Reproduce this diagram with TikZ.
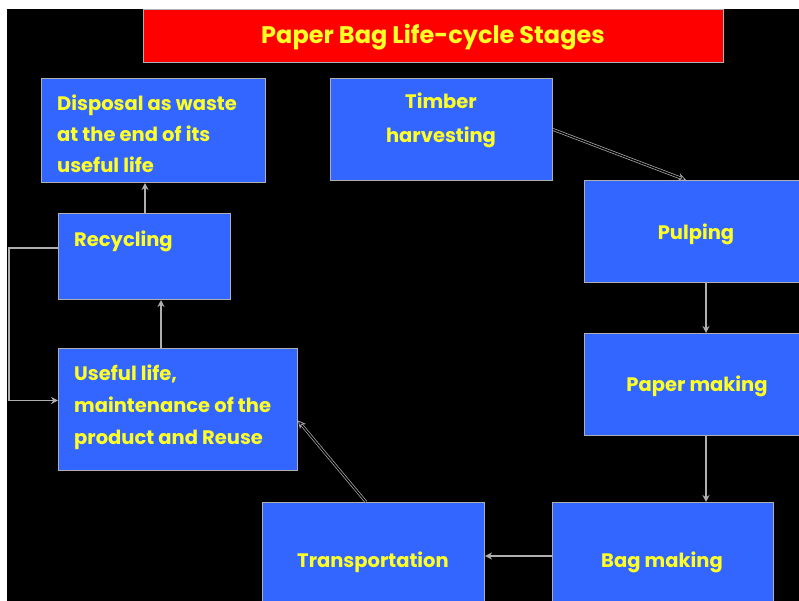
\documentclass[tikz,border=0pt]{standalone}
\usepackage{fontspec}
\setmainfont{Poppins}
\usetikzlibrary{arrows.meta,calc}
\definecolor{boxblue}{RGB}{51,102,255}
\definecolor{txtyellow}{RGB}{255,255,40}
\definecolor{edgegray}{RGB}{175,175,175}
\begin{document}
\begin{tikzpicture}[x=1pt,y=-1pt,
  stagebox/.style={draw=edgegray,line width=1pt,fill=boxblue,anchor=north west,inner sep=0pt},
  stagetext/.style={text=txtyellow,font=\fontsize{19.5}{31}\selectfont\bfseries,inner sep=0pt},
  arr/.style={draw=edgegray,line width=1.3pt,-{Stealth[open,length=7pt,width=7pt]}},
  darr/.style={draw=edgegray,line width=0.7pt,double=black,double distance=1.4pt,-{Stealth[open,length=8pt,width=8pt]}}]
\useasboundingbox (0,0) rectangle (799,601);
\clip (0,0) rectangle (799,601);
\fill[white] (0,0) rectangle (799,601);
\fill[black] (7,9) rectangle (805,610);
% title
\node[draw=edgegray,line width=1pt,fill=red,anchor=north west,inner sep=0pt,minimum width=580pt,minimum height=53pt] (title) at (143,9) {};
\node[text=txtyellow,font=\fontsize{24}{28}\selectfont\bfseries,inner sep=0pt] (titletext) at (433,37) {Paper Bag Life-cycle Stages};
% boxes
\node[stagebox,minimum width=224pt,minimum height=104pt] (disp) at (41,78) {};
\node[stagebox,minimum width=222pt,minimum height=102pt] (timb) at (330,78) {};
\node[stagebox,minimum width=230pt,minimum height=102pt] (pulp) at (584,180) {};
\node[stagebox,minimum width=230pt,minimum height=102pt] (papr) at (584,333) {};
\node[stagebox,minimum width=221pt,minimum height=110pt] (bagm) at (552,502) {};
\node[stagebox,minimum width=222pt,minimum height=110pt] (trns) at (262,502) {};
\node[stagebox,minimum width=172pt,minimum height=86pt] (recy) at (58,213) {};
\node[stagebox,minimum width=239pt,minimum height=122pt] (usef) at (58,348) {};
% texts
\node[stagetext,anchor=west,align=left] (tdisp) at (57,134) {Disposal as waste\\at the end of its\\useful life};
\node[stagetext,align=center,font=\fontsize{19.5}{34}\selectfont\bfseries] (ttimb) at (441,120) {Timber\\harvesting};
\node[stagetext] (tpulp) at (696,234) {Pulping};
\node[stagetext] (tpapr) at (697,386) {Paper making};
\node[stagetext] (tbagm) at (662,562) {Bag making};
\node[stagetext] (ttrns) at (373,562) {Transportation};
\node[stagetext,anchor=west] (trecy) at (74,241) {Recycling};
\node[stagetext,anchor=west,align=left,font=\fontsize{19.5}{32}\selectfont\bfseries] (tusef) at (74,407) {Useful life,\\maintenance of the\\product and Reuse};
% connectors
\draw[darr] (timb.east) -- ([xshift=102pt]pulp.north west);
\draw[arr] ([xshift=122pt]pulp.south west) -- ([xshift=122pt]papr.north west);
\draw[arr] ([xshift=122pt]papr.south west) -- ([xshift=154pt]bagm.north west);
\draw[arr] ([yshift=-54pt]bagm.north west) -- ([yshift=-54pt]trns.north east);
\draw[darr] ([xshift=104pt]trns.north west) -- ([yshift=-11pt]usef.east);
\draw[arr] ([xshift=103pt]usef.north west) -- ([xshift=103pt]recy.south west);
\draw[arr] ([xshift=87pt]recy.north west) -- ([xshift=104pt]disp.south west);
\coordinate (loopc) at (9,248);
\draw[arr] ([yshift=8.5pt]recy.west) -- (loopc) |- ([yshift=9pt]usef.west);
\end{tikzpicture}
\end{document}
